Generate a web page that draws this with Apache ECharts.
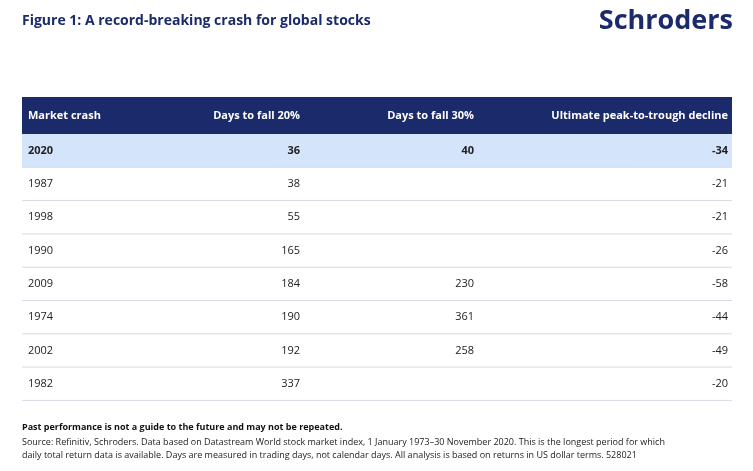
<!DOCTYPE html>
<html>
<head>
<meta charset="utf-8">
<script src="https://cdn.jsdelivr.net/npm/echarts@6/dist/echarts.min.js"></script>
<style>html,body{margin:0;padding:0;background:#fff}#main{width:753px;height:471px}</style>
</head>
<body>
<div id="main"></div>
<script>
var headers = ['Market crash', 'Days to fall 20%', 'Days to fall 30%', 'Ultimate peak-to-trough decline'];
var years = ['2020', '1987', '1998', '1990', '2009', '1974', '2002', '1982'];
var fall20 = [36, 38, 55, 165, 184, 190, 192, 337];
var fall30 = [40, null, null, null, 230, 361, 258, null];
var decline = [-34, -21, -21, -26, -58, -44, -49, -20];

function pageInit() {
    var myChart = echarts.init(document.getElementById('main'));
    var font = '"Open Sans", "Noto Sans", sans-serif';
    var left = 22, right = 732, top = 97, headH = 37, rowH = 33.3;
    var colRight = [0, 300, 474, 728];
    var els = [];

    els.push({ type: 'text', left: 22, top: 14, style: { text: 'Figure 1: A record-breaking crash for global stocks', font: 'bold 14px ' + font, fill: '#1b2a6b' } });
    els.push({ type: 'text', right: 20, top: 8, style: { text: 'Schroders', font: 'bold 27px ' + font, fill: '#1b2a6b' } });

    els.push({ type: 'rect', shape: { x: left, y: top, width: right - left, height: headH }, style: { fill: '#1b2a6b' } });
    headers.forEach(function (h, i) {
        els.push({ type: 'text', x: i == 0 ? 28 : colRight[i], y: top + headH / 2,
            style: { text: h, font: 'bold 11px ' + font, fill: '#fff', align: i == 0 ? 'left' : 'right', verticalAlign: 'middle' } });
    });

    years.forEach(function (y, r) {
        var y0 = top + headH + r * rowH;
        var bold = r == 0 ? 'bold ' : '';
        if (r == 0) els.push({ type: 'rect', shape: { x: left, y: y0, width: right - left, height: rowH }, style: { fill: '#d4e5fb' } });
        els.push({ type: 'line', shape: { x1: left, y1: y0 + rowH, x2: right, y2: y0 + rowH }, style: { stroke: '#d6dae6', lineWidth: 1 } });
        var vals = [y, fall20[r], fall30[r], decline[r]];
        vals.forEach(function (v, i) {
            if (v === null) return;
            els.push({ type: 'text', x: i == 0 ? 28 : colRight[i], y: y0 + rowH / 2,
                style: { text: String(v), font: bold + '11px ' + font, fill: '#222', align: i == 0 ? 'left' : 'right', verticalAlign: 'middle' } });
        });
    });

    els.push({ type: 'text', left: 22, top: 423, style: { text: 'Past performance is not a guide to the future and may not be repeated.', font: 'bold 9px ' + font, fill: '#111' } });
    els.push({ type: 'text', left: 22, top: 436, style: { text: 'Source: Refinitiv, Schroders. Data based on Datastream World stock market index, 1 January 1973–30 November 2020. This is the longest period for which\ndaily total return data is available. Days are measured in trading days, not calendar days. All analysis is based on returns in US dollar terms. 528021', font: '9px ' + font, fill: '#222', lineHeight: 13 } });

    myChart.setOption({ animation: false, graphic: { elements: els } });
}
window.onload = pageInit;
</script>
</body>
</html>
